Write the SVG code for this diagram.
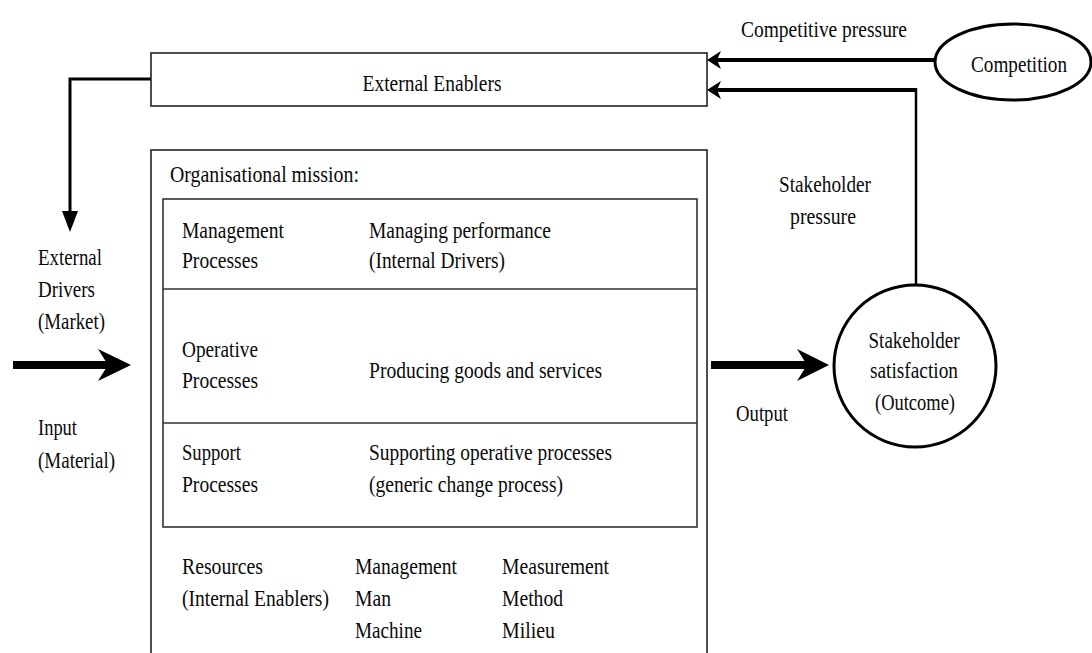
<svg xmlns="http://www.w3.org/2000/svg" width="1092" height="653" viewBox="0 0 1092 653">
  <style>
    text { font-family: "Liberation Serif", "Times New Roman", serif; font-size: 24px; fill: #0a0a0a; }
    .mid { text-anchor: middle; }
    .box { fill: #fff; stroke: #222; stroke-width: 1.6; }
    .inner { fill: none; stroke: #333; stroke-width: 1.6; }
    .node { fill: #fff; stroke: #000; stroke-width: 3; }
    .wire { fill: none; stroke: #000; }
    .head { fill: #000; stroke: none; }
  </style>

  <!-- connectors -->
  <g id="connectors">
    <!-- enablers feed down to external drivers -->
    <polyline class="wire" stroke-width="3" points="151,79 70,79 70,214"/>
    <polygon class="head" points="70,232 62,211 78,211"/>
    <!-- competitive pressure -->
    <line class="wire" stroke-width="4" x1="935" y1="60" x2="716" y2="60"/>
    <polygon class="head" points="707,60 721,51 717,60 721,69"/>
    <!-- stakeholder pressure -->
    <polyline class="wire" stroke-width="4" points="916,90 716,90"/>
    <line class="wire" stroke-width="2.5" x1="916" y1="88" x2="916" y2="285"/>
    <polygon class="head" points="707,90 721,81 717,90 721,99"/>
    <!-- input -->
    <line class="wire" stroke-width="8" x1="13" y1="365" x2="112" y2="365"/>
    <polygon class="head" points="131,365 98,349 108,365 98,381"/>
    <!-- output -->
    <line class="wire" stroke-width="8" x1="711" y1="365" x2="810" y2="365"/>
    <polygon class="head" points="829,365 797,349 807,365 797,381"/>
  </g>

  <!-- external enablers -->
  <g id="external-enablers">
    <rect class="box" x="151" y="53" width="556" height="53"/>
    <text x="432" y="91" class="mid" textLength="139" lengthAdjust="spacingAndGlyphs">External Enablers</text>
  </g>

  <!-- competition -->
  <g id="competition">
    <ellipse class="node" cx="1013" cy="62" rx="78" ry="38"/>
    <text x="1019" y="72" class="mid" textLength="96" lengthAdjust="spacingAndGlyphs">Competition</text>
  </g>
  <text x="824" y="37" class="mid" textLength="166" lengthAdjust="spacingAndGlyphs">Competitive pressure</text>

  <!-- stakeholder satisfaction -->
  <g id="stakeholder-satisfaction">
    <circle class="node" cx="915" cy="366" r="81"/>
    <text x="914" y="348" class="mid" textLength="91" lengthAdjust="spacingAndGlyphs">Stakeholder</text>
    <text x="914" y="378" class="mid" textLength="88" lengthAdjust="spacingAndGlyphs">satisfaction</text>
    <text x="915" y="410" class="mid" textLength="80" lengthAdjust="spacingAndGlyphs">(Outcome)</text>
  </g>
  <text x="825" y="192" class="mid" textLength="92" lengthAdjust="spacingAndGlyphs">Stakeholder</text>
  <text x="823" y="224" class="mid" textLength="66" lengthAdjust="spacingAndGlyphs">pressure</text>
  <text x="736" y="421" textLength="52" lengthAdjust="spacingAndGlyphs">Output</text>

  <!-- left side labels -->
  <g id="external-drivers">
    <text x="38" y="265" textLength="64" lengthAdjust="spacingAndGlyphs">External</text>
    <text x="38" y="297" textLength="57" lengthAdjust="spacingAndGlyphs">Drivers</text>
    <text x="38" y="329" textLength="67" lengthAdjust="spacingAndGlyphs">(Market)</text>
  </g>
  <g id="input">
    <text x="38" y="435" textLength="39" lengthAdjust="spacingAndGlyphs">Input</text>
    <text x="38" y="468" textLength="77" lengthAdjust="spacingAndGlyphs">(Material)</text>
  </g>

  <!-- organisation -->
  <g id="organisation">
    <rect class="box" x="151" y="150" width="556" height="520"/>
    <text x="170" y="182" textLength="189" lengthAdjust="spacingAndGlyphs">Organisational  mission:</text>
    <rect class="inner" x="163" y="199" width="534" height="328"/>
    <line class="inner" x1="163" y1="289" x2="697" y2="289"/>
    <line class="inner" x1="163" y1="423" x2="697" y2="423"/>
  </g>

  <g id="management-processes">
    <text x="182" y="238" textLength="102" lengthAdjust="spacingAndGlyphs">Management</text>
    <text x="182" y="268" textLength="76" lengthAdjust="spacingAndGlyphs">Processes</text>
    <text x="369" y="238" textLength="182" lengthAdjust="spacingAndGlyphs">Managing performance</text>
    <text x="369" y="268" textLength="136" lengthAdjust="spacingAndGlyphs">(Internal Drivers)</text>
  </g>

  <g id="operative-processes">
    <text x="182" y="357" textLength="76" lengthAdjust="spacingAndGlyphs">Operative</text>
    <text x="182" y="388" textLength="76" lengthAdjust="spacingAndGlyphs">Processes</text>
    <text x="369" y="378" textLength="233" lengthAdjust="spacingAndGlyphs">Producing goods and services</text>
  </g>

  <g id="support-processes">
    <text x="182" y="460" textLength="59" lengthAdjust="spacingAndGlyphs">Support</text>
    <text x="182" y="492" textLength="76" lengthAdjust="spacingAndGlyphs">Processes</text>
    <text x="369" y="460" textLength="243" lengthAdjust="spacingAndGlyphs">Supporting operative processes</text>
    <text x="369" y="492" textLength="194" lengthAdjust="spacingAndGlyphs">(generic change process)</text>
  </g>

  <g id="resources">
    <text x="182" y="574" textLength="81" lengthAdjust="spacingAndGlyphs">Resources</text>
    <text transform="translate(182,606) scale(0.814,1)" x="0" y="0">(Internal Enablers)</text>
    <text x="355" y="574" textLength="102" lengthAdjust="spacingAndGlyphs">Management</text>
    <text x="355" y="606" textLength="36" lengthAdjust="spacingAndGlyphs">Man</text>
    <text x="355" y="638" textLength="67" lengthAdjust="spacingAndGlyphs">Machine</text>
    <text x="502" y="574" textLength="107" lengthAdjust="spacingAndGlyphs">Measurement</text>
    <text x="502" y="606" textLength="61" lengthAdjust="spacingAndGlyphs">Method</text>
    <text x="502" y="638" textLength="53" lengthAdjust="spacingAndGlyphs">Milieu</text>
  </g>
</svg>
